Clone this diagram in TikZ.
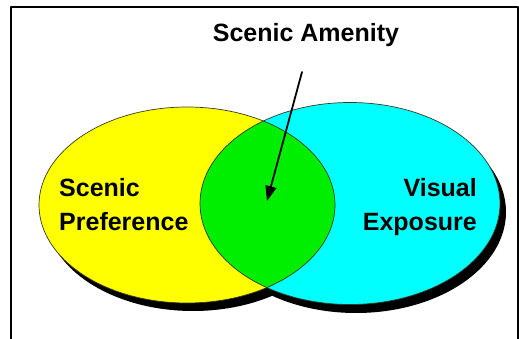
\documentclass[tikz,border=0pt]{standalone}
\usepackage{fontspec}
\setmainfont{Liberation Sans}
\usetikzlibrary{arrows.meta}
\definecolor{prefyellow}{HTML}{FFFF00}
\definecolor{exposcyan}{HTML}{00FFFF}
\definecolor{amenitygreen}{HTML}{00EE00}
\definecolor{rimline}{HTML}{3A3A20}

\tikzset{
  label/.style={font=\bfseries\fontsize{25}{33.5}\selectfont, inner sep=0pt},
  rim/.style={draw=rimline, line width=0.7pt}
}

\begin{document}
\begin{tikzpicture}[line cap=round, line join=round, x=1pt, y=-1pt]
  \useasboundingbox (0,0) rectangle (519,339);
  % frame, open at the bottom
  \draw[line width=2pt, line cap=butt] (11,339) -- (11,7) -- (517.5,7) -- (517.5,339);
  % drop shadows
  \fill[black] (193,213) ellipse (148 and 98);
  \fill[black] (356,212) ellipse (150 and 101);
  % the two sets
  \fill[prefyellow] (187,205) ellipse (148 and 98);
  \fill[exposcyan] (350,203.5) ellipse (150 and 101);
  % overlap
  \begin{scope}
    \clip (187,205) ellipse (148 and 98);
    \fill[amenitygreen] (350,203.5) ellipse (150 and 101);
  \end{scope}
  \draw[rim] (187,205) ellipse (148 and 98);
  \draw[rim] (350,203.5) ellipse (150 and 101);
  % labels
  \node[label, anchor=base] (amenity) at (306,41.5) {Scenic Amenity};
  \node[label, anchor=north west, align=left] (preference) at (59,178.5) {Scenic\\Preference};
  \node[label, anchor=north east, align=right] (exposure) at (477,178.5) {Visual\\Exposure};
  % pointer into the overlap
  \coordinate (pointerstart) at (302,72);
  \coordinate (overlap) at (267,201);
  \draw[line width=1.8pt, -{Triangle[length=15pt,width=11pt]}] (pointerstart) -- (overlap);
\end{tikzpicture}
\end{document}
